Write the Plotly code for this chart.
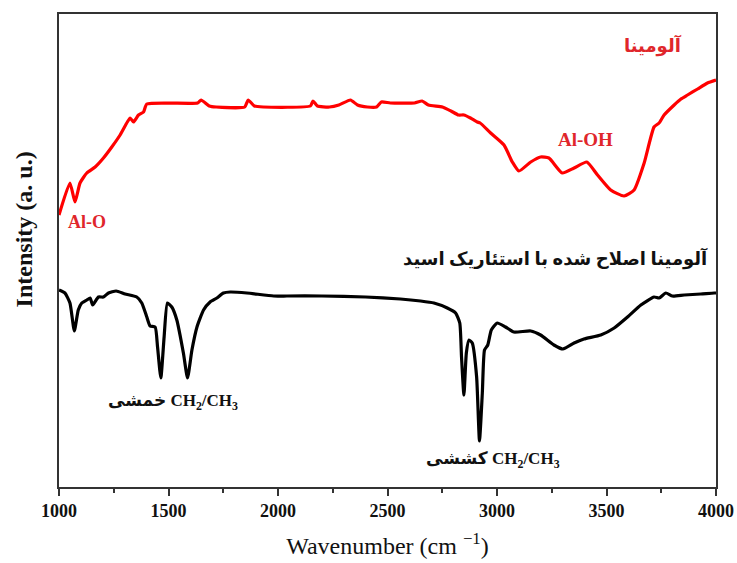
import plotly.graph_objects as go

# Red: alumina
red_w = [1000, 1050, 1073, 1096, 1127, 1165, 1203, 1241, 1279, 1312, 1325, 1340, 1363, 1386, 1401,
         1633, 1649, 1686, 1718, 1848, 1864, 1892, 1933, 2148, 2160, 2180, 2235, 2278, 2331, 2363,
         2408, 2450, 2472, 2513, 2623, 2658, 2687, 2751, 2790, 2824, 2849, 2879, 2910, 2923, 2971,
         3032, 3070, 3100, 3154, 3199, 3237, 3298, 3352, 3410, 3459, 3519, 3580, 3626, 3672, 3717,
         3740, 3763, 3809, 3840, 3870, 3916, 3961, 4000]
red_i = [272, 304, 285, 304, 314, 320, 329, 340, 352, 365, 369, 365, 372, 375, 383,
         384, 387, 381, 380, 380, 387, 381, 380, 381, 386, 381, 380, 382, 387, 382,
         380, 380, 385, 384, 384, 386, 382, 380, 376, 372, 372, 369, 365, 364, 354,
         342, 325, 316, 325, 330, 329, 314, 319, 325, 312, 297, 291, 297, 324, 360,
         364, 372, 382, 388, 392, 398, 404, 407]

# Black: stearic-acid modified alumina
blk_w = [1000, 1027, 1050, 1070, 1088, 1104, 1127, 1142, 1154, 1180, 1203, 1226, 1261, 1302, 1355,
         1378, 1401, 1416, 1439, 1450, 1465, 1480, 1495, 1515, 1538, 1568, 1587, 1607, 1630, 1660,
         1690, 1721, 1751, 1782, 1858, 1980, 2041, 2200, 2400, 2559, 2651, 2712, 2773, 2811, 2830,
         2838, 2849, 2860, 2872, 2887, 2907, 2920, 2933, 2943, 2958, 2974, 3001, 3039, 3077, 3154,
         3199, 3260, 3301, 3352, 3397, 3474, 3535, 3596, 3657, 3717, 3740, 3771, 3801, 3855, 3931,
         3992, 4000]
blk_i = [197, 194, 184, 156, 177, 184, 187, 189, 182, 190, 190, 194, 196, 193, 190,
         184, 170, 161, 160, 140, 109, 150, 184, 180, 167, 134, 109, 137, 160, 177,
         185, 189, 194, 195, 194, 191, 191, 191, 190, 188, 186, 184, 179, 174, 164,
         130, 92, 134, 147, 144, 110, 46, 94, 137, 142, 157, 164, 160, 155, 156,
         152, 142, 138, 144, 148, 152, 159, 170, 182, 190, 189, 194, 191, 192, 193,
         194, 194]

x_ticks = [1000, 1500, 2000, 2500, 3000, 3500, 4000]

SERIF = "Liberation Serif, DejaVu Serif, DejaVu Sans"
RED_TXT = "#e0262b"

fig = go.Figure()
fig.add_trace(go.Scatter(x=red_w, y=red_i, mode="lines",
                         line=dict(color="#ff0000", width=3.2, shape="spline", smoothing=0.5),
                         showlegend=False))
fig.add_trace(go.Scatter(x=blk_w, y=blk_i, mode="lines",
                         line=dict(color="#000000", width=3.2, shape="spline", smoothing=0.5),
                         showlegend=False))

ann = [
    dict(x=3711, y=442, text="<b>آلومینا</b>", font=dict(size=18, color=RED_TXT, family=SERIF)),
    dict(x=3405, y=348, text="<b>Al-OH</b>", font=dict(size=19, color=RED_TXT, family=SERIF)),
    dict(x=1128, y=265, text="<b>Al-O</b>", font=dict(size=18, color=RED_TXT, family=SERIF)),
    dict(x=3268, y=229, text="<b>آلومینا اصلاح شده با استئاریک اسید</b>",
         font=dict(size=18, color="#111111", family=SERIF)),
    dict(x=1519, y=85, text="<b>خمشی CH<sub>2</sub>/CH<sub>3</sub></b>",
         font=dict(size=17, color="#111111", family=SERIF)),
    dict(x=2982, y=27, text="<b>کششی CH<sub>2</sub>/CH<sub>3</sub></b>",
         font=dict(size=17, color="#111111", family=SERIF)),
]
for a in ann:
    fig.add_annotation(xref="x", yref="y", showarrow=False, xanchor="center", yanchor="middle", **a)

# y-axis title (placed as rotated text to match the reference's vertical position)
fig.add_annotation(xref="paper", yref="paper", x=-0.053, y=0.545, showarrow=False,
                   xanchor="center", yanchor="middle", textangle=-90,
                   text="<b>Intensity (a. u.)</b>", font=dict(family=SERIF, size=24, color="#111111"))

fig.update_xaxes(range=[1000, 4000], tickvals=x_ticks, ticktext=[str(t) for t in x_ticks],
                 ticks="outside", ticklen=7, tickwidth=1.5, tickcolor="#333333",
                 minor=dict(dtick=250, tick0=1000, ticks="outside", ticklen=4, tickwidth=1.5, tickcolor="#333333"),
                 showline=True, linecolor="#333333", linewidth=1.5, mirror=True,
                 showgrid=False, zeroline=False, automargin=False,
                 tickfont=dict(family=SERIF, size=18, color="#111111", weight="bold"),
                 title=dict(text="Wavenumber (cm <sup>−1</sup>)", font=dict(family=SERIF, size=24, color="#111111"),
                            standoff=17))
fig.update_yaxes(range=[0, 473], showticklabels=False, ticks="",
                 showline=True, linecolor="#333333", linewidth=1.5, mirror=True,
                 showgrid=False, zeroline=False, automargin=False)

fig.update_layout(width=737, height=563, margin=dict(l=59, r=21, t=14, b=76),
                  paper_bgcolor="white", plot_bgcolor="white")

fig.write_html("out.html")
